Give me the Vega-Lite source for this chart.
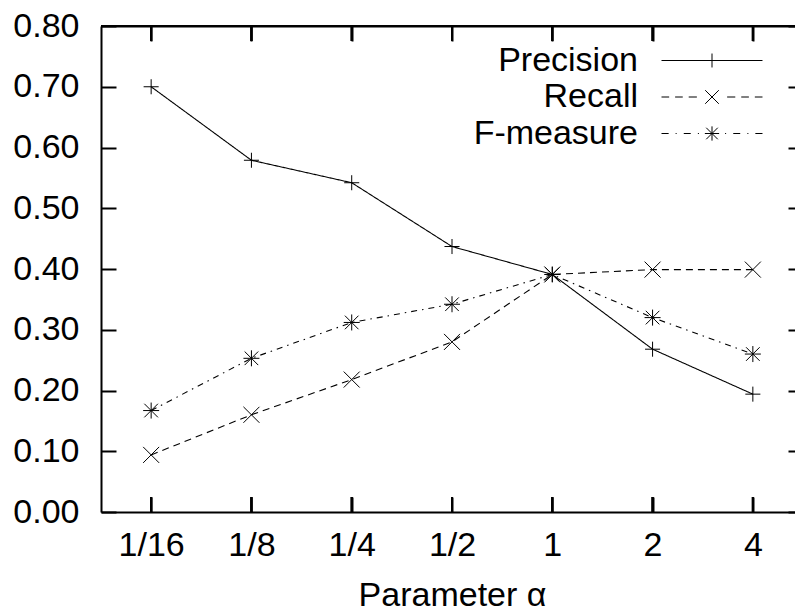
{
  "$schema": "https://vega.github.io/schema/vega-lite/v6.json",
  "width": 702,
  "height": 486,
  "autosize": {"type": "none"},
  "padding": {"left": 101, "top": 26, "right": -8, "bottom": 103},
  "background": "white",
  "config": {
    "view": {"stroke": null},
    "font": "Liberation Sans",
    "axis": {
      "labelFont": "Liberation Sans",
      "labelFontSize": 34,
      "labelColor": "black",
      "titleFont": "Liberation Sans",
      "titleFontSize": 34,
      "titleFontWeight": "normal",
      "titleColor": "black",
      "domainColor": "black",
      "domainWidth": 2,
      "tickColor": "black",
      "tickWidth": 2,
      "grid": false
    }
  },
  "data": {
    "values": [
      {"alpha": "1/16", "series": "Precision", "value": 0.700},
      {"alpha": "1/8", "series": "Precision", "value": 0.579},
      {"alpha": "1/4", "series": "Precision", "value": 0.542},
      {"alpha": "1/2", "series": "Precision", "value": 0.437},
      {"alpha": "1", "series": "Precision", "value": 0.391},
      {"alpha": "2", "series": "Precision", "value": 0.268},
      {"alpha": "4", "series": "Precision", "value": 0.194},
      {"alpha": "1/16", "series": "Recall", "value": 0.094},
      {"alpha": "1/8", "series": "Recall", "value": 0.160},
      {"alpha": "1/4", "series": "Recall", "value": 0.218},
      {"alpha": "1/2", "series": "Recall", "value": 0.280},
      {"alpha": "1", "series": "Recall", "value": 0.391},
      {"alpha": "2", "series": "Recall", "value": 0.399},
      {"alpha": "4", "series": "Recall", "value": 0.399},
      {"alpha": "1/16", "series": "F-measure", "value": 0.167},
      {"alpha": "1/8", "series": "F-measure", "value": 0.253},
      {"alpha": "1/4", "series": "F-measure", "value": 0.312},
      {"alpha": "1/2", "series": "F-measure", "value": 0.342},
      {"alpha": "1", "series": "F-measure", "value": 0.391},
      {"alpha": "2", "series": "F-measure", "value": 0.320},
      {"alpha": "4", "series": "F-measure", "value": 0.260}
    ]
  },
  "resolve": {
    "scale": {"shape": "independent"},
    "axis": {"x": "independent", "y": "independent"}
  },
  "layer": [
    {
      "mark": {"type": "line", "color": "black", "strokeWidth": 1.1},
      "encoding": {
        "x": {
          "field": "alpha", "type": "ordinal",
          "sort": ["1/16", "1/8", "1/4", "1/2", "1", "2", "4"],
          "scale": {"type": "point", "padding": 0.5},
          "axis": {"orient": "bottom", "ticks": false, "domainColor": "black", "labelAngle": 0, "labelPadding": 16, "title": "Parameter α", "titlePadding": 16}
        },
        "y": {
          "field": "value", "type": "quantitative",
          "scale": {"domain": [0, 0.8], "nice": false, "zero": true},
          "axis": {"orient": "left", "ticks": false, "domainColor": "black", "values": [0, 0.1, 0.2, 0.3, 0.4, 0.5, 0.6, 0.7, 0.8], "format": ".2f", "labelPadding": 22, "title": null}
        },
        "strokeDash": {
          "field": "series", "type": "nominal",
          "scale": {"domain": ["Precision", "Recall", "F-measure"], "range": [[1, 0], [7, 5], [6, 5, 1.5, 5]]},
          "legend": null
        }
      }
    },
    {
      "mark": {"type": "rule", "color": "black", "strokeWidth": 2},
      "encoding": {
        "y": {"datum": 0.8, "type": "quantitative", "axis": null}
      }
    },
    {
      "mark": {"type": "rule", "color": "black", "strokeWidth": 2},
      "encoding": {
        "x": {"field": "alpha", "type": "ordinal", "sort": ["1/16", "1/8", "1/4", "1/2", "1", "2", "4"], "axis": null},
        "y": {"datum": 0, "type": "quantitative", "axis": null},
        "y2": {"datum": 0.0247}
      }
    },
    {
      "mark": {"type": "rule", "color": "black", "strokeWidth": 2},
      "encoding": {
        "x": {"field": "alpha", "type": "ordinal", "sort": ["1/16", "1/8", "1/4", "1/2", "1", "2", "4"], "axis": null},
        "y": {"datum": 0.7753, "type": "quantitative", "axis": null},
        "y2": {"datum": 0.8}
      }
    },
    {
      "mark": {"type": "point", "color": "black", "filled": false, "strokeWidth": 1, "size": 256, "opacity": 1},
      "encoding": {
        "x": {
          "field": "alpha", "type": "ordinal",
          "sort": ["1/16", "1/8", "1/4", "1/2", "1", "2", "4"],
          "axis": {"orient": "top", "offset": -486, "zindex": 1, "domain": false, "tickSize": 15, "tickWidth": 2, "tickColor": "black", "labels": false, "title": null}
        },
        "y": {
          "field": "value", "type": "quantitative",
          "axis": {"orient": "right", "offset": -702, "zindex": 1, "domain": false, "tickSize": 15, "tickWidth": 2, "tickColor": "black", "labels": false, "values": [0, 0.1, 0.2, 0.3, 0.4, 0.5, 0.6, 0.7, 0.8], "title": null}
        },
        "shape": {
          "field": "series", "type": "nominal",
          "scale": {
            "domain": ["Precision", "Recall", "F-measure"],
            "range": ["M-0.94,0H0.94M0,-0.94V0.94", "M-1,-1L1,1M-1,1L1,-1", "M-1,0H1M0,-1V1M-0.85,-0.85L0.85,0.85M-0.85,0.85L0.85,-0.85"]
          },
          "legend": null
        }
      }
    },
    {
      "transform": [{"filter": "datum.value < 0"}],
      "mark": {"type": "point", "color": "black", "filled": false, "strokeWidth": 1, "size": 1156, "opacity": 1},
      "encoding": {
        "x": {
          "field": "alpha", "type": "ordinal",
          "sort": ["1/16", "1/8", "1/4", "1/2", "1", "2", "4"],
          "axis": {"orient": "bottom", "offset": -486, "zindex": 1, "domain": true, "domainColor": "black", "tickSize": 15, "tickWidth": 2, "tickColor": "black", "labels": false, "title": null}
        },
        "y": {
          "field": "value", "type": "quantitative",
          "axis": {"orient": "left", "offset": -702, "zindex": 1, "domain": true, "domainColor": "black", "tickSize": 15, "tickWidth": 2, "tickColor": "black", "labels": false, "values": [0, 0.1, 0.2, 0.3, 0.4, 0.5, 0.6, 0.7, 0.8], "title": null}
        },
        "shape": {
          "field": "series", "type": "nominal",
          "scale": {
            "domain": ["Precision", "Recall", "F-measure"],
            "range": [
              "M-2.97,0H2.97M0,-0.41V0.41",
              "M-2.97,0H-2.52M-2.17,0H-1.72M-1.37,0H-0.89M-0.4,-0.4L0.4,0.4M-0.4,0.4L0.4,-0.4M0.89,0H1.37M1.72,0H2.17M2.52,0H2.97",
              "M-2.97,0H-2.55M-2.14,0H-2.08M-1.66,0H-1.25M-0.83,0H-0.77M-0.42,0H0.42M0,-0.42V0.42M-0.34,-0.34L0.34,0.34M-0.34,0.34L0.34,-0.34M0.77,0H0.83M1.25,0H1.66M2.08,0H2.14M2.55,0H2.97"
            ]
          },
          "legend": {
            "orient": "none",
            "legendX": 593.5,
            "legendY": 17,
            "zindex": 3,
            "title": null,
            "padding": 0,
            "labelFont": "Liberation Sans",
            "labelFontSize": 34,
            "labelLimit": 400,
            "labelColor": "black",
            "labelAlign": "right",
            "labelOffset": -91.5,
            "symbolSize": 1156,
            "symbolStrokeColor": "black",
            "symbolFillColor": "transparent",
            "symbolStrokeWidth": 1,
            "symbolOpacity": 1,
            "rowPadding": 1.5
          }
        }
      }
    }
  ]
}
